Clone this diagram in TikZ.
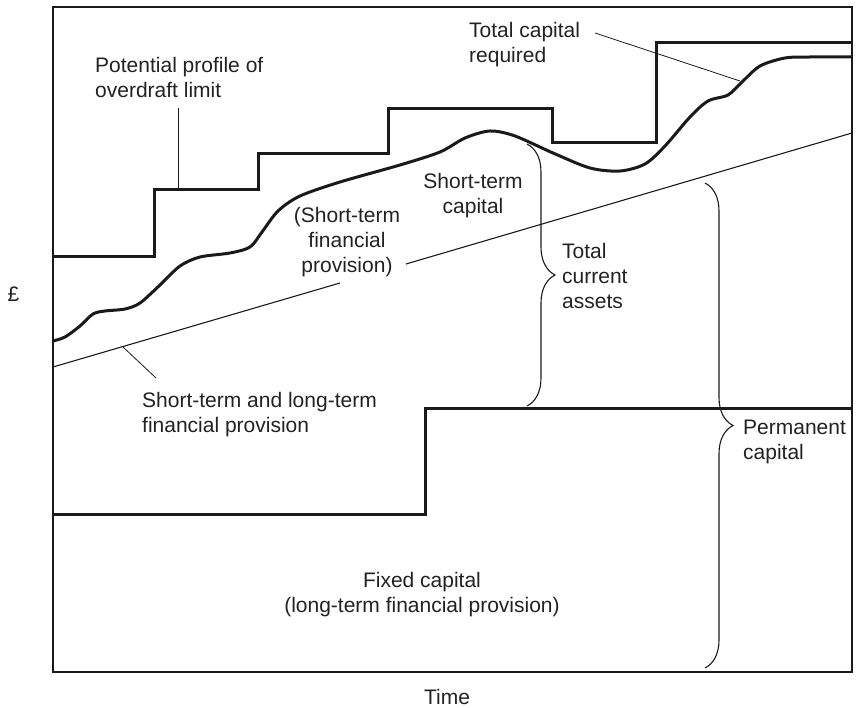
\documentclass[tikz,border=0pt]{standalone}
\usepackage{fontspec}
\setmainfont{Liberation Sans}
\usetikzlibrary{decorations.pathreplacing}
\definecolor{ink}{HTML}{1A1A1A}
\definecolor{txt}{HTML}{222222}
\begin{document}
\begin{tikzpicture}[x=1pt,y=-1pt,
  frame/.style={draw=ink,line width=1.4pt},
  heavy/.style={draw=ink,line width=3pt,line join=miter},
  thinline/.style={draw=ink,line width=1.1pt},
  leader/.style={draw=ink,line width=0.8pt},
  bracket/.style={draw=ink,line width=1.1pt,decorate,decoration={brace,amplitude=28pt}},
  lbl/.style={text=txt,inner sep=0pt,font=\fontsize{21}{25}\selectfont}]
\useasboundingbox (0,0) rectangle (856,708);

% axes frame
\draw[frame] (53,7) rectangle (852,672);

% short-term and long-term financial provision (straight line, broken by label)
\draw[thinline] (53,367) -- (340,283);
\draw[thinline] (406,264) -- (852,133);

% potential overdraft limit steps
\draw[heavy] (53,257) -- (154,257) -- (154,190) -- (258,190) -- (258,154)
  -- (388,154) -- (388,109) -- (552,109) -- (552,143) -- (656,143)
  -- (656,43) -- (852,43);

% fixed capital steps
\draw[heavy] (53,514) -- (425,514) -- (425,408) -- (852,408);

% total capital required
\draw[heavy,line join=round] plot[smooth,tension=0.5] coordinates {
  (53,341) (65,337) (80,326) (93,314) (105,311) (125,309) (140,303)
  (160,285) (180,266) (200,257) (230,253) (250,247) (262,232) (278,211)
  (300,196) (340,182) (400,165) (440,152) (465,138) (490,131) (515,136)
  (553,153) (590,168) (620,171) (645,164) (665,146) (690,117) (708,101)
  (728,95) (742,82) (760,66) (785,58) (810,57) (852,57)};

% braces
\draw[bracket] (527,144) -- (527,406);
\draw[bracket] (705,183) -- (705,668);

% labels
\node[lbl,anchor=north west,align=left] (overdraft) at (95,57) {Potential profile of\\overdraft limit};
\node[lbl,anchor=north west,align=left] (totalcap) at (469,22) {Total capital\\required};
\node[lbl,anchor=north,align=center] (stcap) at (473,173) {Short-term\\capital};
\node[lbl,anchor=north,align=center] (stprov) at (347,207) {(Short-term\\financial\\provision)};
\node[lbl,anchor=north west,align=left] (tca) at (562,243) {Total\\current\\assets};
\node[lbl,anchor=north west,align=left] (stlt) at (142,392) {Short-term and long-term\\financial provision};
\node[lbl,anchor=north,align=center] (fixed) at (422,572) {Fixed capital\\(long-term financial provision)};
\node[lbl,anchor=north west,align=left] (perm) at (743,420) {Permanent\\capital};
\node[lbl,anchor=north] (time) at (447,689) {Time};
\node[lbl,anchor=north] (pound) at (13.5,287) {£};

% leader lines
\coordinate (odtop) at (178,108);
\coordinate (odfoot) at (178,190);
\draw[leader] (odtop) -- (odfoot);
\coordinate (tctail) at (595,33);
\coordinate (tchead) at (740,81);
\draw[leader] (tctail) -- (tchead);
\coordinate (sltop) at (123,347);
\coordinate (slfoot) at (156,378);
\draw[leader] (sltop) -- (slfoot);
\end{tikzpicture}
\end{document}
